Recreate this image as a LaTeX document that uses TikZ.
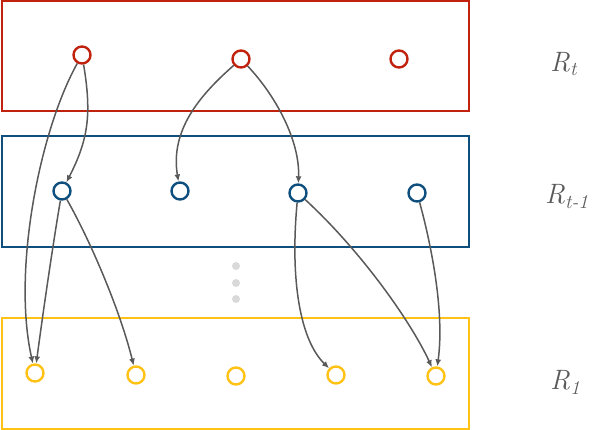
\documentclass[tikz,border=0pt]{standalone}
\usetikzlibrary{arrows.meta}
\definecolor{cred}{HTML}{C0220E}
\definecolor{cblue}{HTML}{0F4F7E}
\definecolor{cyel}{HTML}{FFC215}
\definecolor{cgray}{HTML}{595959}
\definecolor{cdot}{HTML}{D9D9D9}
\tikzset{
  layer/.style={draw, line width=1.4pt},
  unit/.style={circle, draw, line width=2.4pt, minimum size=17pt, inner sep=0pt},
  ru/.style={unit, draw=cred},
  bu/.style={unit, draw=cblue},
  yu/.style={unit, draw=cyel},
  link/.style={draw=cgray, line width=1.5pt, -{Latex[length=7pt,width=6pt]}},
  lab/.style={text=cgray, anchor=base west, font=\fontsize{28}{30}\selectfont\itshape, inner sep=0pt},
  vdot/.style={circle, fill=cdot, minimum size=8pt, inner sep=0pt}
}
\begin{document}
\begin{tikzpicture}[x=1pt,y=-1pt]
\useasboundingbox (0,0) rectangle (592,430);
% layers
\draw[layer, draw=cred] (2,1) rectangle (469,111);
\draw[layer, draw=cblue] (2,136) rectangle (469,247);
\draw[layer, draw=cyel] (2,318) rectangle (469,429);
% units
\node[ru] (r1) at (82,55) {};
\node[ru] (r2) at (241,59) {};
\node[ru] (r3) at (399,59) {};
\node[bu] (b1) at (62,191) {};
\node[bu] (b2) at (180,191) {};
\node[bu] (b3) at (298,193) {};
\node[bu] (b4) at (417,193) {};
\node[yu] (y1) at (35,373) {};
\node[yu] (y2) at (136,375) {};
\node[yu] (y3) at (236,376) {};
\node[yu] (y4) at (336,375) {};
\node[yu] (y5) at (436,376) {};
% dots
\node[vdot] (d1) at (236,266) {};
\node[vdot] (d2) at (236,283) {};
\node[vdot] (d3) at (236,299) {};
% labels
\node[lab] (lt) at (550,72) {R\textsubscript{t}};
\node[lab] (lt1) at (545,204) {R\textsubscript{t-1}};
\node[lab] (l1) at (550,390) {R\textsubscript{1}};
% links
\draw[link] (r1) .. controls (40,130) and (12,270) .. (y1);
\draw[link] (r1) .. controls (92,115) and (88,140) .. (b1);
\draw[link] (r2) .. controls (200,95) and (170,130) .. (b2);
\draw[link] (r2) .. controls (275,95) and (300,140) .. (b3);
\draw[link] (b1) .. controls (52,250) and (42,320) .. (y1);
\draw[link] (b1) .. controls (90,240) and (120,310) .. (y2);
\draw[link] (b3) .. controls (290,280) and (300,340) .. (y4);
\draw[link] (b3) .. controls (360,250) and (410,320) .. (y5);
\draw[link] (b4) .. controls (430,240) and (445,310) .. (y5);
\end{tikzpicture}
\end{document}
